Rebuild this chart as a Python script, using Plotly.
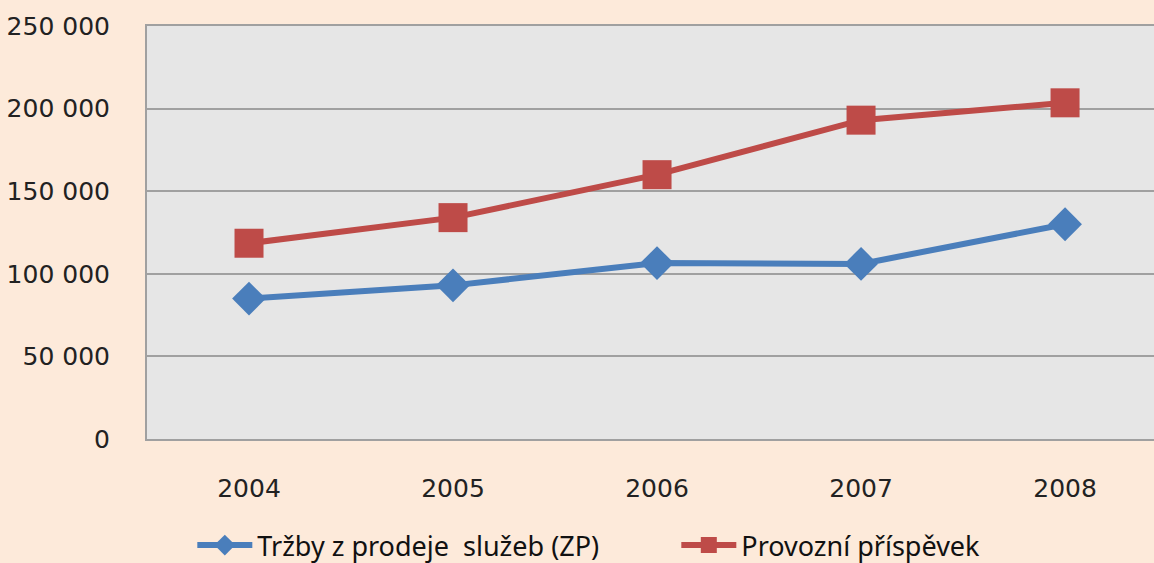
import plotly.graph_objects as go

years = ["2004", "2005", "2006", "2007", "2008"]
trzby = [85000, 93000, 106500, 106000, 130000]
prispevek = [118500, 134000, 160000, 193000, 203500]

blue = "#4A7EBB"
red = "#BE4B48"
peach = "#FDEADA"

fig = go.Figure()
fig.add_trace(go.Scatter(
    x=years, y=trzby, mode="lines+markers",
    name="Tržby z prodeje  služeb (ZP)",
    line=dict(color=blue, width=6),
    marker=dict(symbol="diamond", size=26, color=blue),
))
fig.add_trace(go.Scatter(
    x=years, y=prispevek, mode="lines+markers",
    name="Provozní příspěvek",
    line=dict(color=red, width=6),
    marker=dict(symbol="square", size=29, color=red),
))

fig.update_layout(
    width=1154, height=563,
    margin=dict(l=147, r=0, t=26, b=124, autoexpand=False),
    paper_bgcolor=peach,
    plot_bgcolor="#E6E6E6",
    separators=", ",
    font=dict(family="DejaVu Sans", size=25, color="#222222"),
    showlegend=True,
    legend=dict(
        orientation="h", x=0.045, y=-0.258, xanchor="left", yanchor="middle",
        font=dict(family="Noto Sans", size=27, color="#111111"),
        bgcolor="rgba(0,0,0,0)", entrywidth=414, itemwidth=55,
    ),
)
fig.update_xaxes(
    type="category", range=[-0.5, 4.436],
    showgrid=False, showline=True, linecolor="#A0A0A0", linewidth=2, mirror=True,
    ticks="", ticklabelstandoff=26, tickfont=dict(size=25),
)
fig.update_yaxes(
    range=[0, 250000], dtick=50000, tickformat=",d",
    showgrid=True, gridcolor="#A0A0A0", gridwidth=1.5,
    showline=True, linecolor="#A0A0A0", linewidth=2,
    zeroline=False, ticks="", ticklabelstandoff=30,
)

fig.write_html(
    "out.html",
    config={"displayModeBar": False},
    post_script="document.body.style.margin='0';document.body.style.background='%s';" % peach,
)
